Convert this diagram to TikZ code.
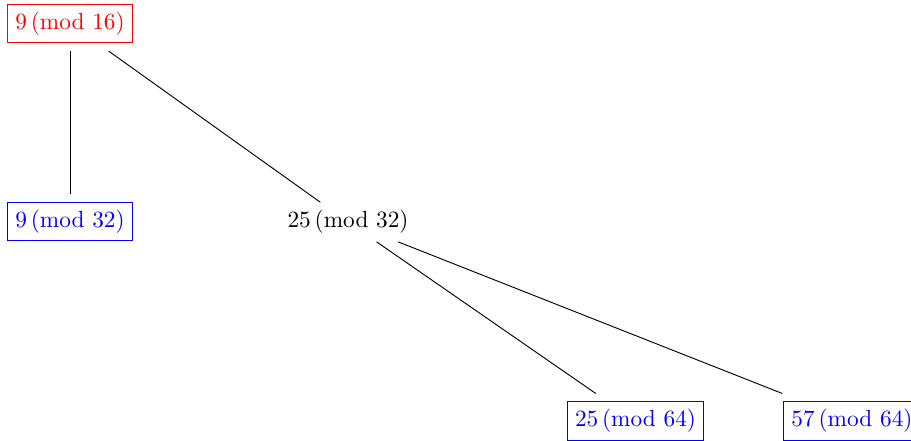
\documentclass[tikz,border=0pt]{standalone}
\usepackage{amsmath}
\begin{document}
\begin{tikzpicture}[
        % Estilos
        redbox/.style={rectangle, draw=red, text=red, outer sep=3.5pt},
        bluebox/.style={rectangle, draw=blue, text=blue, outer sep=3.5pt},
        plain/.style={rectangle, inner sep=0pt, outer sep=3.5pt},
        edge/.style={thin, black}
    ]
        \useasboundingbox (0,0) rectangle (13.74,-6.64);

        % Nivel 1
        \node (m16) [redbox] at (1.056,-0.354) {$9\,(\mathrm{mod}\ 16)$};

        % Nivel 2
        \node (m32a) [bluebox] at (1.056,-3.34) {$9\,(\mathrm{mod}\ 32)$};
        \node (m32b) [plain] at (5.25,-3.35) {$25\,(\mathrm{mod}\ 32)$};

        % Nivel 3
        \node (m64a) [bluebox] at (9.585,-6.35) {$25\,(\mathrm{mod}\ 64)$};
        \node (m64b) [bluebox] at (12.85,-6.35) {$57\,(\mathrm{mod}\ 64)$};

        % --- Arestas ---
        \draw [edge] (m16) -- (m32a);
        \draw [edge] (m16) -- (m32b);
        \draw [edge] (m32b) -- (m64a);
        \draw [edge] (m32b) -- (m64b);
    \end{tikzpicture}
\end{document}
